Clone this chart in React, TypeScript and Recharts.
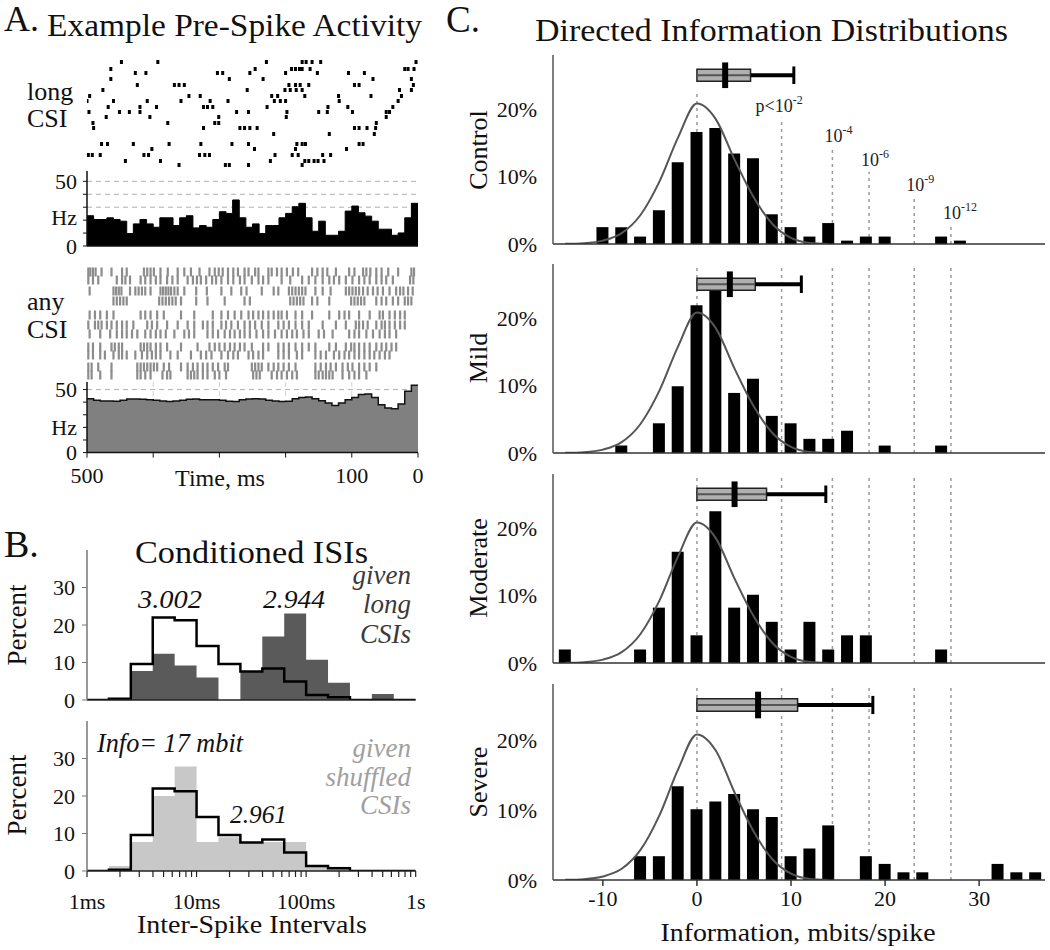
import React from 'react';
import {
  ComposedChart, ScatterChart, Scatter, Area, Line, Bar, XAxis, YAxis,
  ReferenceLine, ReferenceArea, CartesianGrid,
} from 'recharts';

const FONT = "'Liberation Serif', 'DejaVu Serif', serif";

// ---------------- Panel A data ----------------
const longRasterTrials = [7, 14, 18, 24, 30, 35, 41, 46, 52, 57, 62, 68, 73, 79, 89, 94, 100, 106, 110];
const longRasterTimes = [
  [448, 393, 229, 175, 169, 160, 147, 3],
  [464, 246, 191, 185, 179, 175, 163, 20, 15, 6],
  [411, 427, 303, 295, 254, 200, 152, 105, 81],
  [464, 285, 234, 68, 10],
  [424, 368, 361, 353, 195, 185, 178, 165, 96, 89, 7],
  [476, 258, 201, 193, 184, 175, 28, 10],
  [496, 346, 329, 221, 212, 171, 120, 71, 25],
  [500, 460, 409, 358, 314, 287, 217, 208, 200, 119, 30],
  [468, 420, 395, 324, 318, 310, 228, 136, 106, 38],
  [497, 451, 436, 420, 274, 256, 198, 150, 137, 99, 48, 43],
  [471, 405, 301, 199, 48],
  [491, 378, 307, 301, 63],
  [490, 324, 269, 262, 254, 243, 96, 89, 77, 64],
  [218, 134, 66],
  [478, 469, 430, 376, 328, 281, 256, 183, 175, 170, 83, 89],
  [402, 247, 108, 185],
  [498, 492, 480, 414, 407, 330, 322, 315, 216, 190, 181, 144, 132],
  [442, 389, 223, 171, 165, 157, 151, 142],
  [361, 291, 285, 256, 175],
];

const anyRasterTrials = [10, 18, 29, 39, 53, 63, 72, 85, 93, 105, 113];
const anyRasterTimes = [
  [498, 495, 491, 487, 478, 463, 447, 440, 414, 409, 404, 399, 389, 378, 363, 353, 343, 330, 315, 307, 301, 295, 287, 279, 272, 262, 256, 246, 241, 226, 221, 213, 206, 198, 189, 181, 160, 152, 144, 137, 124, 104, 96, 83, 78, 72, 63, 55, 45, 30, 10, 6],
  [498, 491, 483, 455, 447, 442, 435, 419, 412, 404, 396, 389, 379, 371, 363, 348, 340, 334, 328, 320, 311, 305, 297, 287, 279, 269, 262, 251, 241, 234, 226, 206, 193, 175, 165, 155, 144, 134, 127, 119, 109, 99, 89, 81, 73, 63, 55, 48, 38, 12, 7],
  [496, 460, 456, 452, 448, 435, 427, 422, 417, 412, 404, 389, 385, 381, 377, 373, 368, 363, 353, 335, 319, 297, 282, 267, 259, 236, 218, 211, 195, 190, 185, 180, 175, 170, 155, 144, 132, 109, 104, 99, 94, 89, 83, 76, 68, 61, 53, 43, 33, 27, 22, 15, 8],
  [460, 455, 450, 445, 440, 391, 386, 381, 376, 371, 366, 358, 335, 318, 292, 262, 254, 193, 188, 183, 178, 173, 160, 152, 134, 101, 96, 91, 86, 81, 63, 55, 48, 38, 30, 20, 15, 10],
  [496, 488, 480, 470, 460, 419, 412, 404, 394, 384, 358, 338, 310, 297, 287, 277, 267, 256, 249, 241, 234, 226, 218, 211, 206, 198, 185, 175, 160, 134, 119, 111, 104, 89, 73, 58, 53, 43, 35, 27, 20],
  [498, 488, 483, 478, 470, 463, 455, 447, 440, 430, 409, 402, 394, 379, 363, 348, 338, 325, 318, 310, 297, 290, 282, 272, 262, 254, 246, 236, 226, 211, 203, 195, 185, 175, 165, 144, 124, 109, 94, 89, 83, 76, 63, 55, 50, 43, 35, 27, 20],
  [496, 480, 465, 455, 447, 440, 432, 424, 412, 404, 396, 389, 381, 368, 353, 346, 338, 318, 310, 302, 292, 284, 277, 269, 262, 254, 244, 234, 226, 216, 206, 198, 190, 183, 173, 165, 150, 142, 129, 104, 96, 89, 78, 68, 58, 50, 43, 33],
  [498, 491, 480, 463, 458, 452, 447, 419, 414, 409, 404, 396, 389, 379, 358, 333, 315, 307, 300, 292, 284, 277, 269, 262, 251, 234, 226, 211, 203, 195, 185, 175, 165, 155, 134, 124, 109, 101, 96, 89, 81, 73, 63, 55, 48, 40, 33],
  [498, 491, 480, 473, 460, 452, 447, 440, 427, 417, 409, 402, 396, 389, 374, 363, 343, 328, 320, 312, 297, 287, 279, 272, 256, 249, 241, 234, 211, 203, 195, 183, 175, 155, 147, 139, 127, 119, 111, 104, 96, 89, 81, 73, 66, 58, 50, 43],
  [498, 493, 483, 463, 424, 419, 414, 409, 404, 399, 394, 384, 376, 358, 348, 340, 333, 325, 318, 310, 302, 292, 287, 251, 246, 241, 236, 226, 218, 211, 203, 195, 185, 155, 147, 139, 132, 124, 114, 106, 99, 89, 81, 73, 63],
  [498, 493, 480, 463, 424, 419, 412, 404, 386, 379, 374, 348, 343, 338, 333, 325, 318, 307, 300, 290, 249, 244, 239, 221, 213, 206, 198, 190, 183, 155, 150, 144, 139, 134, 129, 114, 104, 96, 89, 78],
];

const aEdges = [500, 490, 480, 470, 460, 450, 440, 430, 420, 410, 400, 390, 380, 370, 360, 350, 340, 330, 320, 310, 300, 290, 280, 270, 260, 250, 240, 230, 220, 210, 200, 190, 180, 170, 160, 150, 140, 130, 120, 110, 100, 90, 80, 70, 60, 50, 40, 30, 20, 10, 0];
const aLongRate = [23.4, 20.5, 20.5, 21.8, 20.5, 19.2, 9.6, 17.1, 20.5, 17.1, 14.5, 21.8, 21.8, 15.8, 21.8, 23.4, 14.0, 15.8, 14.5, 20.5, 26.5, 25.2, 35.6, 21.8, 14.5, 17.1, 9.6, 15.8, 15.8, 21.8, 25.2, 30.4, 33.0, 21.8, 11.4, 19.2, 8.3, 8.3, 11.4, 27.0, 30.9, 25.7, 23.1, 19.2, 13.0, 13.0, 8.3, 10.1, 21.8, 33.0];
const aAnyRate = [42.8, 41.5, 41.0, 41.0, 40.8, 41.5, 42.5, 42.5, 42.3, 42.0, 41.5, 41.0, 40.6, 41.0, 41.5, 42.3, 42.5, 42.0, 42.0, 42.0, 41.5, 40.8, 40.6, 42.0, 42.5, 42.8, 42.5, 41.5, 41.0, 40.6, 40.8, 42.8, 43.8, 44.1, 42.8, 41.2, 39.3, 37.4, 39.3, 42.0, 43.8, 46.0, 46.5, 43.8, 38.0, 35.3, 34.8, 38.5, 48.7, 53.5];
const aTicks = [0, 100, 200, 300, 400, 500];
const aGridX = [100, 200, 300, 400];
const aTickText: Record<number, string> = { 500: '500', 100: '100', 0: '0' };

// ---------------- Panel B data ----------------
const bEdges = [1, 1.585, 2.512, 3.981, 6.31, 10, 15.85, 25.12, 39.81, 63.1, 100, 158.5, 251.2, 398.1, 631, 1000];
const bAll = [0, 0.3, 9.6, 22.0, 21.3, 14.4, 9.6, 7.6, 8.4, 4.9, 1.3, 0.7, 0, 0, 0, 0];
const bLongCsi = [0, 0, 7.7, 12.3, 9.2, 6.0, 0, 7.7, 16.9, 23.1, 10.7, 4.6, 0, 1.6, 0, 0];
const bShuffled = [0, 1.3, 7.7, 20.0, 27.9, 7.7, 9.0, 7.7, 7.7, 7.7, 1.1, 1.1, 0, 0, 0, 0];
const bTicks = [1, 2, 3, 4, 5, 6, 7, 8, 9, 10, 20, 30, 40, 50, 60, 70, 80, 90, 100, 200, 300, 400, 500, 600, 700, 800, 900, 1000];
const bTickText: Record<number, string> = { 1: '1ms', 10: '10ms', 100: '100ms', 1000: '1s' };

// ---------------- Panel C data ----------------
const controlX = [-10, -8, -6, -4, -2, 0, 2, 4, 6, 8, 10, 12, 14, 16, 18, 20, 26, 28];
const controlPct = [2.5, 2.5, 1.1, 5.0, 12.1, 16.6, 17.2, 13.4, 12.7, 4.4, 2.5, 1.1, 3.1, 0.5, 1.1, 1.1, 1.1, 0.5];
const mildX = [-8, -4, -2, 0, 2, 4, 6, 8, 10, 12, 14, 16, 20, 26];
const mildPct = [1.1, 4.4, 9.9, 21.9, 24.0, 8.9, 11.0, 5.5, 4.4, 2.1, 2.1, 3.3, 1.1, 1.1];
const moderateX = [-14, -6, -4, -2, 0, 2, 4, 6, 8, 10, 12, 14, 16, 18, 26];
const moderatePct = [2.0, 2.0, 8.2, 16.5, 4.1, 22.5, 8.2, 10.1, 6.1, 2.0, 6.1, 2.0, 4.1, 4.1, 2.0];
const severeX = [-6, -4, -2, 0, 2, 4, 6, 8, 10, 12, 14, 18, 20, 22, 24, 32, 34, 36];
const severePct = [3.4, 3.4, 13.4, 10.1, 11.2, 12.3, 10.1, 9.0, 3.4, 4.5, 7.8, 3.4, 2.3, 1.1, 1.1, 2.3, 1.1, 1.1];

const gaussX = [-14, -12, -10, -8, -6, -4, -2, 0, 2, 4, 6, 8, 10, 12, 14];
const gaussPct = [0.02, 0.12, 0.5, 1.6, 4.3, 9.2, 15.8, 20.8, 18.5, 12.5, 7.0, 3.0, 0.9, 0.15, 0.0];

const thresholdX = [0, 9.0, 14.4, 18.3, 23.1, 27.0];
const thresholdExp = ['', '-2', '-4', '-6', '-9', '-12'];
const controlLineTop = [22.8, 18.7, 14.2, 10.7, 7.0, 2.8];

const boxQ3 = [5.7, 6.2, 7.4, 10.7];
const boxMedian = [3.0, 3.5, 4.0, 6.5];
const boxWhisker = [10.3, 11.1, 13.7, 18.7];
const panelNames = ['Control', 'Mild', 'Moderate', 'Severe'];

const gaussData = gaussX.map((x, i) => ({ x, pct: gaussPct[i] }));

// ---------------- Components ----------------
function Raster({ trials, times, left, top, width, height, yMax, color, mw, mh }: any) {
  const data = trials.flatMap((y: number, i: number) => times[i].map((t: number) => ({ t, y })));
  return (
    <div style={{ position: 'absolute', left, top }}>
      <ScatterChart width={width} height={height} margin={{ top: 0, right: 0, bottom: 0, left: 0 }}>
        <XAxis type="number" dataKey="t" domain={[0, 500]} reversed hide height={0} allowDataOverflow />
        <YAxis type="number" dataKey="y" domain={[0, yMax]} reversed hide width={0} allowDataOverflow />
        <Scatter
          data={data}
          isAnimationActive={false}
          shape={(p: any) => <rect x={p.cx - mw / 2} y={p.cy - mh / 2} width={mw} height={mh} fill={color} />}
        />
      </ScatterChart>
    </div>
  );
}

function RateHist({ rates, plotTop, plotH, yMax, fill, stroke, strokeW, dashed, labels }: any) {
  const data = aEdges.map((t, i) => ({ t, hz: rates[Math.min(i, rates.length - 1)] }));
  const xh = labels ? 42 : 14;
  const tickStyle = { fontSize: 22, fontFamily: FONT, fill: '#111' };
  return (
    <div style={{ position: 'absolute', left: 37.4, top: plotTop - 8 }}>
      <ComposedChart width={396} height={8 + plotH + xh} data={data} margin={{ top: 8, right: 15, bottom: 0, left: 0 }}>
        <CartesianGrid horizontal={false} vertical verticalValues={aGridX} stroke="#d0d0d0" strokeDasharray="5 4" />
        <CartesianGrid vertical={false} horizontal horizontalValues={dashed} stroke="#b0b0b0" strokeDasharray="5 4" />
        <XAxis
          type="number" dataKey="t" domain={[0, 500]} reversed ticks={aTicks} interval={0}
          height={xh} tickSize={5} tickMargin={10}
          axisLine={{ stroke: '#111', strokeWidth: 1.5 }} tickLine={{ stroke: '#111' }}
          tick={labels ? tickStyle : false}
          tickFormatter={(v: number) => aTickText[v] ?? ''}
        />
        <YAxis
          type="number" domain={[0, yMax]} allowDataOverflow ticks={[0, 10, 20, 30, 40, 50]} interval={0}
          width={50} tickSize={4} tickMargin={6}
          axisLine={{ stroke: '#111', strokeWidth: 1.5 }} tickLine={{ stroke: '#111' }}
          tick={tickStyle}
          tickFormatter={(v: number) => (v === 0 || v === 50 ? String(v) : '')}
        />
        <Area
          type="stepAfter" dataKey="hz" fill={fill} fillOpacity={1} stroke={stroke}
          strokeWidth={strokeW} isAnimationActive={false} dot={false} activeDot={false}
        />
      </ComposedChart>
    </div>
  );
}

function IsiHist({ cond, fill, plotTop, labels }: any) {
  const data = bEdges.map((x, i) => ({ x, all: bAll[i], cond: cond[i] }));
  const xh = labels ? 42 : 16;
  const plotH = 150;
  const tickStyle = { fontSize: 22, fontFamily: FONT, fill: '#111' };
  return (
    <div style={{ position: 'absolute', left: 37.3, top: plotTop - 8 }}>
      <ComposedChart width={408.7} height={8 + plotH + xh} data={data} margin={{ top: 8, right: 30, bottom: 0, left: 0 }}>
        <XAxis
          type="number" dataKey="x" scale="log" domain={[1, 1000]} allowDataOverflow ticks={bTicks} interval={0}
          height={xh} tickSize={6} tickMargin={16}
          axisLine={{ stroke: '#222', strokeWidth: 1.5 }} tickLine={{ stroke: '#222', strokeWidth: 1.2 }}
          tick={labels ? tickStyle : false}
          tickFormatter={(v: number) => bTickText[v] ?? ''}
        />
        <YAxis
          type="number" domain={[0, 40]} allowDataOverflow ticks={[0, 10, 20, 30]} interval={0}
          width={50} tickSize={5} tickMargin={7}
          axisLine={{ stroke: '#777', strokeWidth: 1.5 }} tickLine={{ stroke: '#777' }}
          tick={tickStyle}
        />
        <Area
          type="stepAfter" dataKey="cond" fill={fill} fillOpacity={1} stroke="none"
          isAnimationActive={false} dot={false} activeDot={false}
        />
        <Line
          type="stepAfter" dataKey="all" stroke="#000" strokeWidth={2.5}
          isAnimationActive={false} dot={false} activeDot={false}
        />
      </ComposedChart>
    </div>
  );
}

const thrLabel = (exp: string, pre: string) => (p: any) => {
  const vb = p.viewBox || { x: 0, y: 0 };
  return (
    <text x={vb.x - 8 - (pre ? 18 : 0)} y={vb.y - 6} fontFamily={FONT} fontSize={18} fill="#222">
      {pre}10<tspan dy={-8} fontSize={12}>{exp}</tspan>
    </text>
  );
};

function diAxes(labels: boolean, xh: number, visible: boolean) {
  const tickStyle = { fontSize: 22, fontFamily: FONT, fill: '#111' };
  return [
    <XAxis
      key="x"
      type="number" dataKey="x" domain={[-15.3, 37]} allowDataOverflow ticks={[-10, 0, 10, 20, 30]} interval={0}
      height={xh} tickSize={6} tickMargin={4}
      axisLine={visible ? { stroke: '#333', strokeWidth: 1.5 } : false}
      tickLine={visible ? { stroke: '#333', strokeWidth: 1.5 } : false}
      tick={visible && labels ? tickStyle : false}
    />,
    <YAxis
      key="y"
      type="number" domain={[0, 28]} allowDataOverflow ticks={[0, 10, 20]} interval={0}
      width={60} tickLine={false} tickSize={6} tickMargin={10}
      axisLine={visible ? { stroke: '#555', strokeWidth: 1.5 } : false}
      tick={visible ? tickStyle : false}
      tickFormatter={(v: number) => `${v}%`}
    />,
  ];
}

function DIPanel({ idx, xs, pcts, plotTop, plotH, labels }: any) {
  const data = xs.map((x: number, i: number) => ({ x, pct: pcts[i] }));
  const xh = labels ? 40 : 12;
  const isControl = idx === 0;
  const q3 = boxQ3[idx];
  const med = boxMedian[idx];
  const wh = boxWhisker[idx];
  const h = 10 + plotH + xh;
  const m = { top: 10, right: 5, bottom: 0, left: 0 };
  return (
    <>
      {/* threshold lines behind the bars */}
      <div style={{ position: 'absolute', left: 493, top: plotTop - 10 }}>
        <ComposedChart width={557} height={h} data={data} margin={m}>
          {diAxes(labels, xh, false)}
          {thresholdX.map((tx, i) =>
            isControl ? (
              <ReferenceLine
                key={'t' + i}
                segment={[{ x: tx, y: 0 }, { x: tx, y: controlLineTop[i] }]}
                stroke="#9a9a9a" strokeWidth={1.5} strokeDasharray="3 4"
                label={i > 0 ? thrLabel(thresholdExp[i], i === 1 ? 'p<' : '') : undefined}
              />
            ) : (
              <ReferenceLine key={'t' + i} x={tx} stroke="#9a9a9a" strokeWidth={1.5} strokeDasharray="3 4" />
            )
          )}
        </ComposedChart>
      </div>
      <div style={{ position: 'absolute', left: 493, top: plotTop - 10 }}>
        <ComposedChart width={557} height={h} data={data} margin={m}>
          {diAxes(labels, xh, true)}
          <Bar dataKey="pct" fill="#000" barSize={12} isAnimationActive={false} />
          <Line
            data={gaussData} dataKey="pct" type="monotone" stroke="#555" strokeWidth={2}
            dot={false} activeDot={false} isAnimationActive={false}
          />
          <ReferenceArea x1={0} x2={q3} y1={24.1} y2={25.9} fill="#b0b0b0" fillOpacity={1} stroke="#222" strokeWidth={1.5} />
          <ReferenceLine segment={[{ x: 0, y: 25 }, { x: q3, y: 25 }]} stroke="#555" strokeWidth={2} />
          <ReferenceLine segment={[{ x: q3, y: 25 }, { x: wh, y: 25 }]} stroke="#000" strokeWidth={4} />
          <ReferenceLine segment={[{ x: wh, y: 23.7 }, { x: wh, y: 26.3 }]} stroke="#000" strokeWidth={3} />
          <ReferenceLine segment={[{ x: med, y: 23.1 }, { x: med, y: 26.9 }]} stroke="#000" strokeWidth={6} />
        </ComposedChart>
      </div>
    </>
  );
}

function Overlay() {
  const t = { fontFamily: FONT, fill: '#111' } as any;
  const it = { fontFamily: FONT, fontStyle: 'italic' } as any;
  const nameY = [150, 358, 568, 782];
  return (
    <svg width={1050} height={950} style={{ position: 'absolute', left: 0, top: 0, pointerEvents: 'none' }}>
      {/* Panel A */}
      <text x={4} y={31} fontSize={36} {...t}>A.</text>
      <text x={47} y={36} fontSize={32} textLength={375} lengthAdjust="spacingAndGlyphs" {...t}>Example Pre-Spike Activity</text>
      <text x={27} y={100} fontSize={26} {...t}>long</text>
      <text x={27} y={127} fontSize={26} {...t}>CSI</text>
      <text x={27} y={310} fontSize={26} {...t}>any</text>
      <text x={27} y={338} fontSize={26} {...t}>CSI</text>
      <text x={77} y={225} fontSize={22} textAnchor="end" {...t}>Hz</text>
      <text x={77} y={435} fontSize={22} textAnchor="end" {...t}>Hz</text>
      <text x={220} y={486} fontSize={24} textAnchor="middle" {...t}>Time, ms</text>
      {/* Panel B */}
      <text x={4} y={557} fontSize={38} {...t}>B.</text>
      <text x={135} y={563} fontSize={32} textLength={233} lengthAdjust="spacingAndGlyphs" {...t}>Conditioned ISIs</text>
      <text x={138} y={608} fontSize={25} textLength={64} lengthAdjust="spacingAndGlyphs" fill="#111" {...it}>3.002</text>
      <text x={263} y={608} fontSize={25} textLength={62} lengthAdjust="spacingAndGlyphs" fill="#111" {...it}>2.944</text>
      <text x={411} y={584} fontSize={27} textAnchor="end" fill="#3a3a3a" {...it}>given</text>
      <text x={411} y={613} fontSize={27} textAnchor="end" fill="#3a3a3a" {...it}>long</text>
      <text x={411} y={643} fontSize={27} textAnchor="end" fill="#3a3a3a" {...it}>CSIs</text>
      <text x={97} y={752} fontSize={27} textLength={146} lengthAdjust="spacingAndGlyphs" fill="#111" {...it}>Info= 17 mbit</text>
      <text x={411} y={757} fontSize={27} textAnchor="end" fill="#a0a0a0" {...it}>given</text>
      <text x={411} y={786} fontSize={27} textAnchor="end" fill="#a0a0a0" {...it}>shuffled</text>
      <text x={411} y={814} fontSize={27} textAnchor="end" fill="#a0a0a0" {...it}>CSIs</text>
      <text x={230} y={823} fontSize={25} textLength={57} lengthAdjust="spacingAndGlyphs" fill="#111" {...it}>2.961</text>
      <text transform="translate(17,625) rotate(-90)" fontSize={27} textAnchor="middle" dominantBaseline="central" {...t}>Percent</text>
      <text transform="translate(17,795) rotate(-90)" fontSize={27} textAnchor="middle" dominantBaseline="central" {...t}>Percent</text>
      <text x={252} y={933} fontSize={25} textAnchor="middle" textLength={230} lengthAdjust="spacingAndGlyphs" {...t}>Inter-Spike Intervals</text>
      {/* Panel C */}
      <text x={446} y={32} fontSize={37} {...t}>C.</text>
      <text x={535} y={41} fontSize={32} textLength={473} lengthAdjust="spacingAndGlyphs" {...t}>Directed Information Distributions</text>
      {panelNames.map((n, i) => (
        <text key={n} transform={`translate(478,${nameY[i]}) rotate(-90)`} fontSize={26} textAnchor="middle" dominantBaseline="central" {...t}>{n}</text>
      ))}
      <text x={798} y={941} fontSize={26} textAnchor="middle" textLength={275} lengthAdjust="spacingAndGlyphs" {...t}>Information, mbits/spike</text>
    </svg>
  );
}

export default function App() {
  return (
    <div style={{ position: 'absolute', left: 0, top: 0, width: 1050, height: 950, background: '#fff', overflow: 'hidden', fontFamily: FONT }}>
      <Raster trials={longRasterTrials} times={longRasterTimes} left={87.4} top={55} width={331} height={115} yMax={115} color="#000" mw={3} mh={4} />
      <RateHist rates={aLongRate} plotTop={171} plotH={75} yMax={58} fill="#000" stroke="#000" strokeW={1} dashed={[30, 40, 50]} labels={false} />
      <Raster trials={anyRasterTrials} times={anyRasterTimes} left={87.4} top={262} width={331} height={120} yMax={120} color="#8c8c8c" mw={2.2} mh={9} />
      <RateHist rates={aAnyRate} plotTop={382.4} plotH={70.6} yMax={56} fill="#808080" stroke="#111" strokeW={1.5} dashed={[50]} labels={true} />

      <IsiHist cond={bLongCsi} fill="#5a5a5a" plotTop={550} labels={false} />
      <IsiHist cond={bShuffled} fill="#c8c8c8" plotTop={720.7} labels={true} />

      <DIPanel idx={0} xs={controlX} pcts={controlPct} plotTop={55} plotH={189} labels={false} />
      <DIPanel idx={1} xs={mildX} pcts={mildPct} plotTop={264} plotH={189} labels={false} />
      <DIPanel idx={2} xs={moderateX} pcts={moderatePct} plotTop={474} plotH={189} labels={false} />
      <DIPanel idx={3} xs={severeX} pcts={severePct} plotTop={684} plotH={196} labels={true} />

      <Overlay />
    </div>
  );
}
